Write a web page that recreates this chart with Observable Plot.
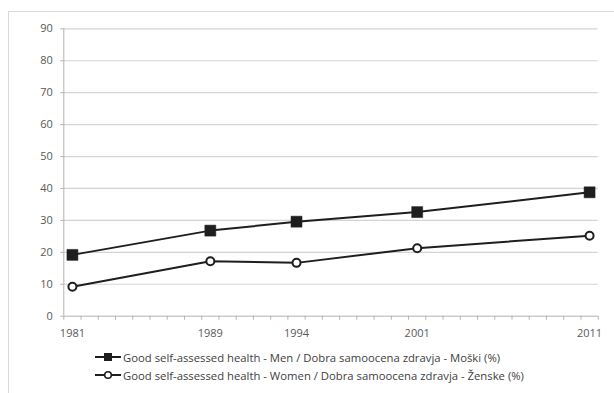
<!DOCTYPE html>
<html>
<head>
<meta charset="utf-8">
<script src="https://cdn.jsdelivr.net/npm/d3@7"></script>
<script src="https://cdn.jsdelivr.net/npm/@observablehq/plot@0.6"></script>
<style>
  html, body { margin: 0; padding: 0; background: #fff; }
  #wrap { position: relative; width: 614px; height: 393px; overflow: hidden; font-family: "Open Sans", sans-serif; }
  #frame { position: absolute; left: 8px; top: 11px; right: -2px; bottom: -2px; border-top: 1px solid #d9d9d9; border-left: 1px solid #d9d9d9; }
  #chart { position: absolute; left: 0; top: 0; }
  #legend { position: absolute; left: 95px; top: 348px; font-size: 11.3px; color: #404040; }
  .item { display: flex; align-items: center; height: 18px; white-space: nowrap; }
  .item svg { margin-right: 2px; }
</style>
</head>
<body>
<div id="wrap">
  <div id="frame"></div>
  <div id="chart"></div>
  <div id="legend"></div>
</div>
<script>
// Census years and share of people reporting good health (%)
const years = [1981, 1989, 1994, 2001, 2011];
const men = [19.2, 26.8, 29.6, 32.6, 38.8];
const women = [9.2, 17.2, 16.7, 21.3, 25.2];
const yTicks = [0, 10, 20, 30, 40, 50, 60, 70, 80, 90];
const seriesNames = [
  "Good self-assessed health - Men / Dobra samoocena zdravja - Moški (%)",
  "Good self-assessed health - Women / Dobra samoocena zdravja - Ženske (%)"
];

const ink = "#1e1e1e";
const axisGray = "#b3b3b3";
const gridGray = "#d4d4d4";
const textGray = "#595959";

const menData = years.map((year, i) => ({year, value: men[i]}));
const womenData = years.map((year, i) => ({year, value: women[i]}));

// one category slot per calendar year; minor ticks sit on the slot edges
const xMin = years[0] - 0.5, xMax = years[years.length - 1] + 0.5;
const slotEdges = d3.range(xMin, xMax + 0.01, 1);

const chart = Plot.plot({
  width: 614,
  height: 345,
  marginTop: 28.3,
  marginBottom: 29.3,
  marginLeft: 63.3,
  marginRight: 16.3,
  style: {fontFamily: "Open Sans, sans-serif", color: textGray, background: "transparent"},
  x: {domain: [xMin, xMax]},
  y: {domain: [0, 90]},
  marks: [
    Plot.gridY(yTicks.filter(d => d > 0), {stroke: gridGray, strokeOpacity: 1, strokeWidth: 1.2}),
    Plot.ruleX([xMin], {y1: 0, y2: 90, stroke: axisGray}),
    Plot.ruleY([0], {stroke: axisGray}),
    Plot.axisY(yTicks, {tickSize: 3, tickPadding: 8, stroke: axisGray, fill: textGray, fontSize: 11, label: null}),
    Plot.axisX(slotEdges, {tickSize: 4, tickFormat: () => "", stroke: axisGray, label: null}),
    Plot.axisX(years, {tickSize: 0, tickPadding: 13, tickFormat: d => String(d), fill: textGray, fontSize: 11, label: null}),
    Plot.line(menData, {x: "year", y: "value", stroke: ink, strokeWidth: 2}),
    Plot.line(womenData, {x: "year", y: "value", stroke: ink, strokeWidth: 2}),
    Plot.dot(menData, {x: "year", y: "value", symbol: "square", r: 6.2, fill: ink, stroke: ink, strokeWidth: 0.5}),
    Plot.dot(womenData, {x: "year", y: "value", symbol: "circle", r: 4, fill: "#fff", stroke: ink, strokeWidth: 2})
  ]
});
document.getElementById("chart").appendChild(chart);

// legend with line-and-marker swatches
const legend = d3.select("#legend");
seriesNames.forEach((name, i) => {
  const row = legend.append("div").attr("class", "item");
  const sw = row.append("svg").attr("width", 26).attr("height", 12);
  sw.append("line").attr("x1", 0).attr("x2", 26).attr("y1", 6).attr("y2", 6)
    .attr("stroke", ink).attr("stroke-width", 2);
  if (i === 0) {
    sw.append("rect").attr("x", 9).attr("y", 2).attr("width", 8).attr("height", 8).attr("fill", ink);
  } else {
    sw.append("circle").attr("cx", 13).attr("cy", 6).attr("r", 3.3)
      .attr("fill", "#fff").attr("stroke", ink).attr("stroke-width", 1.6);
  }
  row.append("span").text(name);
});
</script>
</body>
</html>
